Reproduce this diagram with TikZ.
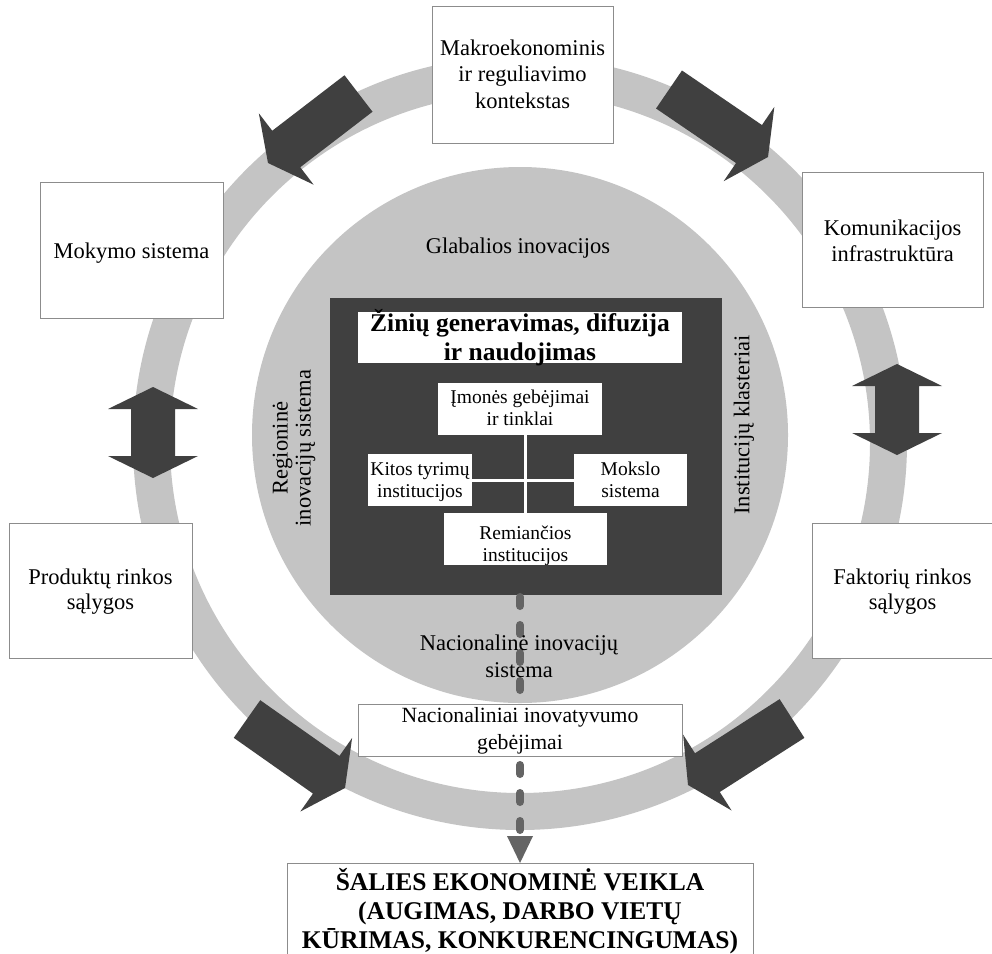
\documentclass[tikz,border=0pt]{standalone}
\usepackage{fontspec}
\setmainfont{Liberation Serif}
\usetikzlibrary{calc}

\definecolor{ringgray}{RGB}{196,196,196}
\definecolor{coregray}{RGB}{64,64,64}
\definecolor{flowgray}{RGB}{100,100,100}
\definecolor{edgegray}{RGB}{140,140,140}

% Thick straight arrow lying on the ring: #1 = tail coordinate, #2 = tip coordinate
\newcommand{\blockarrow}[2]{%
  \coordinate (#2-base) at ($(#2)!23pt!(#1)$);
  \fill[arrowfill] ($(#1)!23pt!90:(#2)$) -- ($(#2-base)!23pt!90:(#2)$)
    -- ($(#2-base)!45pt!90:(#2)$) -- (#2) -- ($(#2-base)!45pt!-90:(#2)$)
    -- ($(#2-base)!23pt!-90:(#2)$) -- ($(#1)!23pt!-90:(#2)$) -- cycle;}

% Vertical two-headed arrow: #1 = x, #2 = upper tip y, #3 = lower tip y
\newcommand{\dblarrow}[3]{%
  \fill[arrowfill] (#1,#2) -- (#1+45,#2+22) -- (#1+22,#2+22) -- (#1+22,#3-22)
    -- (#1+45,#3-22) -- (#1,#3) -- (#1-45,#3-22) -- (#1-22,#3-22)
    -- (#1-22,#2+22) -- (#1-45,#2+22) -- cycle;}

\begin{document}
\begin{tikzpicture}[x=1pt,y=-1pt,
  arrowfill/.style={fill=coregray},
  outerbox/.style={draw=edgegray, line width=0.9pt, fill=white, inner sep=0pt, outer sep=0pt},
  innerbox/.style={fill=white, inner sep=0pt, outer sep=0pt},
  boxtext/.style={align=center, inner sep=0pt, font=\fontsize{22.5}{25}\selectfont},
  smalltext/.style={align=center, inner sep=0pt, font=\fontsize{19.5}{22.3}\selectfont},
  boldtext/.style={align=center, inner sep=0pt, font=\bfseries\fontsize{25.5}{28.5}\selectfont},
  crossline/.style={draw=white, line width=3pt},
  flowline/.style={draw=flowgray, line width=8pt, line cap=round, dash pattern=on 9pt off 19pt},
]
\useasboundingbox (0,0) rectangle (992,953);
\clip (0,0) rectangle (992,953);
\fill[white] (0,0) rectangle (992,953);

% outer ring and inner disc
\fill[ringgray, even odd rule] (520,443) circle[radius=387pt] (520,443) circle[radius=350pt];
\fill[ringgray] (520,435) circle[radius=268pt];

% arrows running round the ring
\coordinate (tl-tail) at (358.5,93.5);  \coordinate (tl-tip) at (268,163);
\coordinate (tr-tail) at (669,89.5);    \coordinate (tr-tip) at (768,157);
\coordinate (bl-tail) at (247,719);     \coordinate (bl-tip) at (345,788);
\coordinate (br-tail) at (792,718.5);   \coordinate (br-tip) at (688,785);
\blockarrow{tl-tail}{tl-tip}
\blockarrow{tr-tail}{tr-tip}
\blockarrow{bl-tail}{bl-tip}
\blockarrow{br-tail}{br-tip}
\dblarrow{153}{387}{478}
\dblarrow{897}{364}{455}

% boxes around the ring
\node[outerbox, minimum width=181pt, minimum height=137pt] (macro) at (522.5,74.5) {};
\node[boxtext, font=\fontsize{22.5}{26.5}\selectfont] (macro-t) at (522.5,74)
  {Makroekonominis\\ir reguliavimo\\kontekstas};
\node[outerbox, minimum width=183pt, minimum height=136pt] (teach) at (131.5,250) {};
\node[boxtext] (teach-t) at (131.5,253) {Mokymo sistema};
\node[outerbox, minimum width=181pt, minimum height=135pt] (comm) at (892.5,239.5) {};
\node[boxtext, font=\fontsize{22.5}{26}\selectfont] (comm-t) at (892.5,241)
  {Komunikacijos\\infrastruktūra};
\node[outerbox, minimum width=183pt, minimum height=135pt] (prod) at (100.5,590.5) {};
\node[boxtext] (prod-t) at (100.5,592) {Produktų rinkos\\sąlygos};
\node[outerbox, minimum width=181pt, minimum height=135pt] (fact) at (902.5,590.5) {};
\node[boxtext] (fact-t) at (902.5,592) {Faktorių rinkos\\sąlygos};

% labels on the disc
\node[boxtext] (global) at (518,248) {Glabalios inovacijos};
\node[boxtext, rotate=90, font=\fontsize{22.5}{23}\selectfont] (region) at (294,448)
  {Regioninė\\inovacijų sistema};
\node[boxtext, rotate=90] (cluster) at (744,425) {Institucijų klasteriai};

% knowledge core
\node[fill=coregray, inner sep=0pt, minimum width=392pt, minimum height=297pt] (core) at (526,446.5) {};
\node[innerbox, minimum width=324pt, minimum height=51pt] (title) at (520,337.5) {};
\node[boldtext] (title-t) at (520,337.5) {Žinių generavimas, difuzija\\ir naudojimas};

\node[innerbox, minimum width=164pt, minimum height=52pt] (firms) at (520,409) {};
\node[innerbox, minimum width=104pt, minimum height=52pt] (other) at (420,480) {};
\node[innerbox, minimum width=113pt, minimum height=52pt] (science) at (630.5,480) {};
\node[innerbox, minimum width=163pt, minimum height=52pt] (support) at (525.5,539) {};
\draw[crossline] (firms.south -| support.north) -- (support.north);
\draw[crossline] (other.east) -- (science.west);
\node[smalltext] (firms-t) at (520,408) {Įmonės gebėjimai\\ir tinklai};
\node[smalltext] (other-t) at (420,482) {Kitos tyrimų\\institucijos};
\node[smalltext] (science-t) at (630.5,480) {Mokslo\\sistema};
\node[smalltext] (support-t) at (525.5,546) {Remiančios\\institucijos};

% flow down to economic performance
\coordinate (flow-top) at (520,597);
\coordinate (flow-end) at (520,836);
\node[outerbox, minimum width=466pt, minimum height=112pt] (econ) at (520,919) {};
\draw[flowline] (flow-top) -- (flow-end);
\fill[flowgray] (507,836) -- (533,836) -- (econ.north -| flow-end) -- cycle;

\node[boxtext, font=\fontsize{22.5}{26.7}\selectfont] (nis) at (519,656) {Nacionalinė inovacijų\\sistema};
\node[outerbox, minimum width=324pt, minimum height=52pt] (capab) at (520,730) {};
\node[boxtext, font=\fontsize{21.7}{27}\selectfont] (capab-t) at (520,731) {Nacionaliniai inovatyvumo\\gebėjimai};

\node[boldtext, font=\bfseries\fontsize{25.5}{28.7}\selectfont] (econ-t) at (520,911)
  {ŠALIES EKONOMINĖ VEIKLA\\(AUGIMAS, DARBO VIETŲ\\KŪRIMAS, KONKURENCINGUMAS)};
\end{tikzpicture}
\end{document}
